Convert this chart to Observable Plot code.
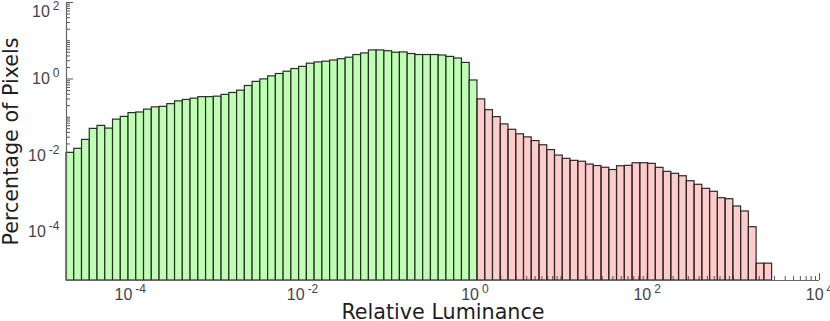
<!DOCTYPE html>
<html><head><meta charset="utf-8">
<script src="https://cdn.jsdelivr.net/npm/d3@7"></script>
<script src="https://cdn.jsdelivr.net/npm/@observablehq/plot@0.6"></script>
<style>body{margin:0;background:#fff} svg{display:block}</style>
</head><body><div id="chart"></div>
<script>
// log10 of bin edges (relative luminance)
const binEdges = [
-4.74,-4.65,-4.56,-4.47,-4.38,-4.29,-4.20,-4.11,-4.02,-3.93,
-3.84,-3.75,-3.66,-3.57,-3.48,-3.39,-3.30,-3.21,-3.12,-3.03,
-2.94,-2.85,-2.76,-2.67,-2.58,-2.49,-2.40,-2.31,-2.22,-2.13,
-2.04,-1.95,-1.86,-1.77,-1.68,-1.59,-1.50,-1.41,-1.32,-1.23,
-1.14,-1.05,-0.96,-0.87,-0.78,-0.69,-0.60,-0.51,-0.42,-0.33,
-0.24,-0.15,-0.06,0.03,0.12,0.21,0.30,0.39,0.48,0.57,
0.66,0.75,0.84,0.93,1.02,1.11,1.20,1.29,1.38,1.47,
1.56,1.65,1.74,1.83,1.92,2.01,2.10,2.19,2.28,2.37,
2.46,2.55,2.64,2.73,2.82,2.91,3.00,3.09,3.18,3.27,
3.36,3.45];
// percentage of pixels per bin
const pctPixels = [
0.0117,0.0149,0.0255,0.0495,0.0593,0.0504,0.0866,0.102,0.128,0.133,
0.158,0.181,0.187,0.220,0.260,0.283,0.306,0.335,0.335,0.345,
0.384,0.431,0.495,0.656,0.840,0.976,1.17,1.35,1.55,1.82,
2.07,2.51,2.71,2.83,3.04,3.29,3.60,4.23,4.66,5.58,
5.58,5.32,4.86,4.95,4.50,4.23,4.23,4.23,4.11,3.78,
3.43,2.63,0.914,
0.293,0.153,0.1006,0.0649,0.0469,0.0358,0.0297,0.0238,0.0185,0.0138,
0.00994,0.00815,0.00723,0.00685,0.00578,0.00529,0.00477,0.00416,0.00522,0.00535,
0.00626,0.00626,0.00603,0.00474,0.00373,0.00331,0.00286,0.00212,0.00171,0.00134,
0.00112,0.000763,0.000718,0.000463,0.000343,0.000133,0.0000148,0.0000148];
const xTickExponents = [-4,-2,0,2,4];
const yTickExponents = [-4,-2,0,2];
const xDomainExp = [-4.74, 4];
const yDomainExp = [-5.27, 2];
const xLabel = "Relative Luminance";
const yLabel = "Percentage of Pixels";

const bars = pctPixels.map((v,i)=>({lo: 10**binEdges[i], hi: 10**binEdges[i+1], v, below: binEdges[i] < 0}));
const xMin = 10**xDomainExp[0], xMax = 10**xDomainExp[1];
const yMin = 10**yDomainExp[0], yMax = 10**yDomainExp[1];
const xMajor = xTickExponents.map(e=>10**e);
const yMajor = yTickExponents.map(e=>10**e);
const isMajor = (v, list) => list.some(m => Math.abs(Math.log10(v) - Math.log10(m)) < 1e-9);
const xMinor = d3.scaleLog().domain([xMin, xMax]).ticks().filter(v => !isMajor(v, xMajor));
const yMinor = d3.scaleLog().domain([yMin, yMax]).ticks().filter(v => !isMajor(v, yMajor));

const W=830, H=321, mL=66, mR=11, mT=2, mB=41;
const pw = W-mL-mR, ph = H-mT-mB;
const tickColor = "#555";
const fmt = d => "10^" + Math.round(Math.log10(d));
const titleFont = "'DejaVu Sans', Verdana, sans-serif";
const tickFont = "'Liberation Sans', Arial, sans-serif";

const svg = Plot.plot({
  width: W, height: H, marginLeft: mL, marginRight: mR, marginTop: mT, marginBottom: mB,
  style: {background: "white", overflow: "visible"},
  x: {type: "log", domain: [xMin, xMax]},
  y: {type: "log", domain: [yMin, yMax]},
  marks: [
    Plot.tickX(xMinor, {x: d=>d, stroke: tickColor, insetTop: ph-4}),
    Plot.tickX(xMajor, {x: d=>d, stroke: tickColor, insetTop: ph-7}),
    Plot.tickY(yMinor, {y: d=>d, stroke: tickColor, insetRight: pw-4}),
    Plot.tickY(yMajor, {y: d=>d, stroke: tickColor, insetRight: pw-7}),
    Plot.rect(bars.filter(d=>d.below), {x1: "lo", x2: "hi", y1: yMin, y2: "v", fill: "#bfffb3", stroke: "#2b2b2b", strokeWidth: 1.2}),
    Plot.rect(bars.filter(d=>!d.below), {x1: "lo", x2: "hi", y1: yMin, y2: "v", fill: "#ff0000", fillOpacity: 0.2, stroke: "#2b2b2b", strokeWidth: 1.2}),
    Plot.ruleX([xMin], {stroke: "#666", strokeWidth: 1.2}),
    Plot.ruleY([yMin], {stroke: "#666", strokeWidth: 1.2}),
    Plot.axisX({ticks: xMajor, tickFormat: fmt, tickSize: 0, tickPadding: 8, fill: "#444", label: null}),
    Plot.axisY({ticks: yMajor, tickFormat: fmt, tickSize: 0, tickPadding: 7, fill: "#444", label: null}),
    Plot.text([xLabel], {frameAnchor: "bottom", lineAnchor: "middle", textAnchor: "middle", dy: 31.5, text: d=>d, fontSize: 20.7, fontFamily: titleFont, fill: "#1e1e1e"}),
    Plot.text([yLabel], {frameAnchor: "left", lineAnchor: "middle", textAnchor: "middle", dx: -55.6, rotate: -90, text: d=>d, fontSize: 20.7, fontFamily: titleFont, fill: "#1e1e1e"})
  ]
});

const ns = "http://www.w3.org/2000/svg";
["x", "y"].forEach(axis => {
  const g = svg.querySelector(`g[aria-label="${axis}-axis tick label"]`);
  if (g) { g.setAttribute("font-size", "16"); g.setAttribute("font-family", tickFont); g.style.fontSize = "16px"; g.style.fontFamily = tickFont; }
  svg.querySelectorAll(`g[aria-label="${axis}-axis tick label"] text`).forEach(t => {
    const s = t.textContent;
    if (!s.includes("^")) return;
    const [base, exp] = s.split("^");
    t.textContent = "";
    t.setAttribute("font-size", "16");
    t.setAttribute("font-family", tickFont);
    t.style.fontSize = "16px";
    t.style.fontFamily = tickFont;
    const b = document.createElementNS(ns, "tspan"); b.textContent = base;
    const e = document.createElementNS(ns, "tspan"); e.textContent = exp;
    e.setAttribute("dy", "-7"); e.setAttribute("dx", "3");
    e.style.fontSize = "12px";
    t.append(b, e);
    if (axis === "y" && exp === "2") {
      t.setAttribute("transform", (t.getAttribute("transform") || "") + " translate(0,9)");
    }
  });
});
document.getElementById("chart").append(svg);
</script>
</body></html>
